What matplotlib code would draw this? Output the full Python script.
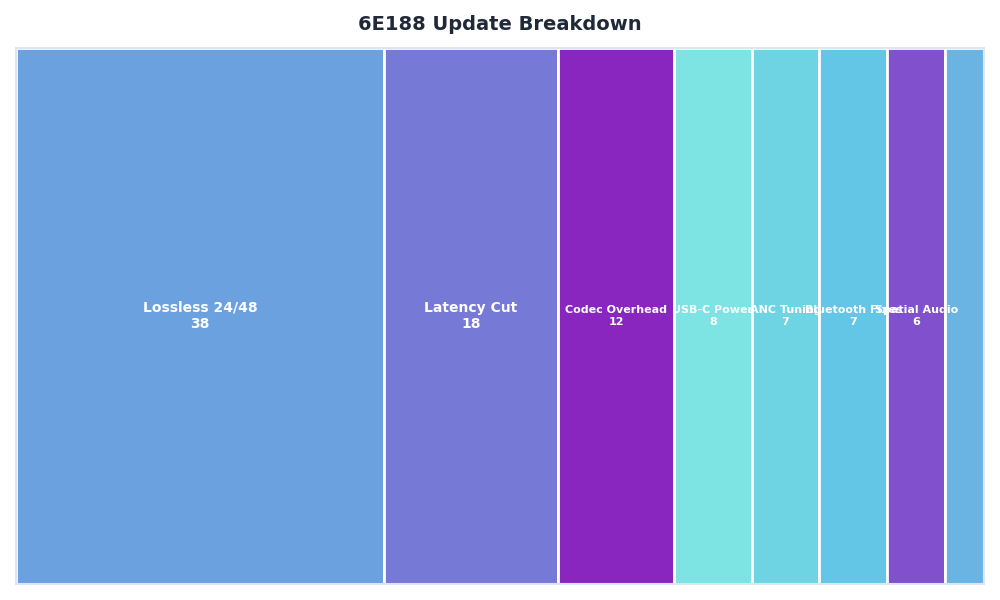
import matplotlib.pyplot as plt
from matplotlib.patches import Rectangle

labels = ['Lossless 24/48', 'Latency Cut', 'Codec Overhead', 'USB-C Power',
          'ANC Tuning', 'Bluetooth Fixes', 'Spatial Audio', 'Other']
values = [38, 18, 12, 8, 7, 7, 6, 4]
colors = ['#6CA1E0', '#7779D6', '#8926C0', '#7DE3E3',
          '#6ED4E4', '#63C6E7', '#8150CC', '#69B4E3']

total = sum(values)

fig = plt.figure(figsize=(10, 6), dpi=100)
ax = fig.add_axes([0.016, 0.0267, 0.968, 0.8933])

x = 0
for name, val, col in zip(labels, values, colors):
    w = val / total
    ax.add_patch(Rectangle((x, 0), w, 1, facecolor=col, edgecolor='white', linewidth=2))
    cx = x + w / 2
    if val >= 15:
        ax.text(cx, 0.5, f'{name}\n{val}', ha='center', va='center',
                color='white', fontsize=10, fontweight='bold', linespacing=1.2)
    elif val >= 5:
        ax.text(cx, 0.5, f'{name}\n{val}', ha='center', va='center',
                color='white', fontsize=8, fontweight='bold', linespacing=1.2)
    x += w

ax.set_xlim(0, 1)
ax.set_ylim(0, 1)
ax.set_xticks([])
ax.set_yticks([])
for s in ax.spines.values():
    s.set_color('#dde6f0')
    s.set_linewidth(1.5)

fig.suptitle('6E188 Update Breakdown', y=0.975, fontsize=14, fontweight='bold', color='#1f2937')

fig.savefig('out.png', dpi=100)
